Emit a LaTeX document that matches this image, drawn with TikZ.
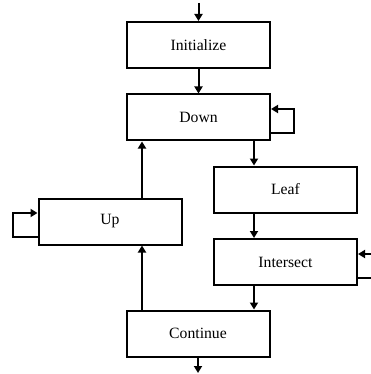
\documentclass[tikz,border=0pt]{standalone}
\usepackage{fontspec}
\setmainfont{Liberation Serif}
\newfontfamily\statefont{Liberation Serif}
\usetikzlibrary{arrows.meta}

\tikzset{
  state/.style={draw,line width=2pt,minimum width=143pt,minimum height=46pt,inner sep=0pt,
    font=\statefont\fontsize{15.7}{18}\selectfont},
  arr/.style={line width=2pt,-{Triangle[length=7pt,width=8pt]}},
  loopline/.style={line width=2pt,-{Triangle[length=7pt,width=8pt]}}
}

\begin{document}
\begin{tikzpicture}[x=1pt,y=-1pt]
\useasboundingbox (0,0) rectangle (371,374);
\clip (0,0) rectangle (371,374);
%\draw[step=10pt,gray,very thin] (0,0) grid (371,374);
\node[state] (init) at (198.5,45) {Initialize};
\node[state] (down) at (198.5,117.5) {Down};
\node[state] (leaf) at (285.5,189.5) {Leaf};
\node[state] (isect) at (285.5,262) {Intersect};
\node[state] (cont) at (198,333.5) {Continue};
\node[state] (up) at (110,221.5) {Up};
\coordinate (start) at (198.5,3);
\coordinate (stop) at (198,373);
\coordinate (right) at (254,0);
\coordinate (left) at (142,0);
\draw[arr] (start) -- (init.north);
\draw[arr] (init.south) -- (down.north);
\draw[arr] (down.south -| right) -- (leaf.north -| right);
\draw[arr] (leaf.south -| right) -- (isect.north -| right);
\draw[arr] (isect.south -| right) -- (cont.north -| right);
\draw[arr] (cont.south) -- (stop);
\draw[arr] (cont.north -| left) -- (up.south -| left);
\draw[arr] (up.north -| left) -- (down.south -| left);
% self loops
\draw[loopline] (down.east |- 0,133) -- (294,133) -- (294,109) -- (down.east |- 0,109);
\draw[loopline] (isect.east |- 0,278) -- (376,278) -- (376,254) -- (isect.east |- 0,254);
\draw[loopline] (up.west |- 0,237) -- (13,237) -- (13,213) -- (up.west |- 0,213);
\end{tikzpicture}
\end{document}
